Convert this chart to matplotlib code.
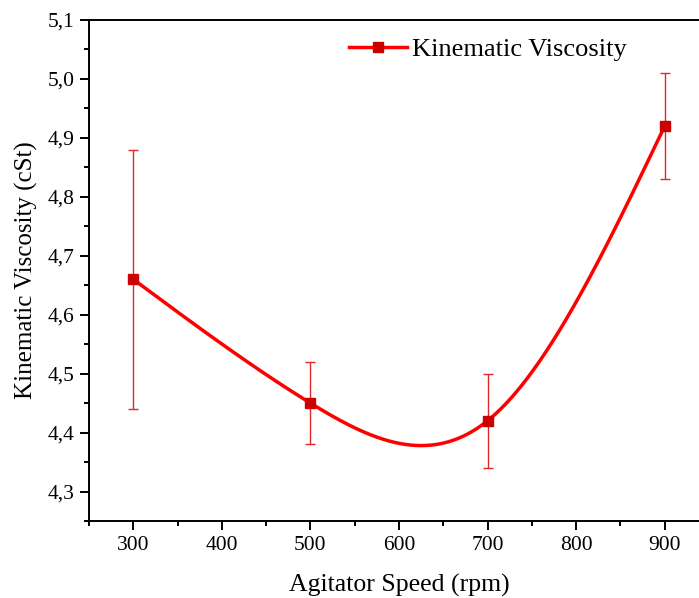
import numpy as np
import matplotlib.pyplot as plt
from matplotlib.ticker import MultipleLocator, FuncFormatter

# data
speed = [300, 500, 700, 900]
viscosity = [4.66, 4.45, 4.42, 4.92]
error = [0.22, 0.07, 0.08, 0.09]


def natural_spline(x, y, xs):
    '''Natural cubic spline through (x, y), evaluated at xs.'''
    x = np.asarray(x, float)
    y = np.asarray(y, float)
    n = len(x)
    h = np.diff(x)
    A = np.zeros((n, n))
    b = np.zeros(n)
    A[0, 0] = A[-1, -1] = 1
    for i in range(1, n - 1):
        A[i, i - 1] = h[i - 1]
        A[i, i] = 2 * (h[i - 1] + h[i])
        A[i, i + 1] = h[i]
        b[i] = 6 * ((y[i + 1] - y[i]) / h[i] - (y[i] - y[i - 1]) / h[i - 1])
    M = np.linalg.solve(A, b)
    idx = np.clip(np.searchsorted(x, xs) - 1, 0, n - 2)
    x0, x1, hi = x[idx], x[idx + 1], h[idx]
    return (M[idx] * (x1 - xs) ** 3 / (6 * hi) + M[idx + 1] * (xs - x0) ** 3 / (6 * hi)
            + (y[idx] - M[idx] * hi ** 2 / 6) * (x1 - xs) / hi
            + (y[idx + 1] - M[idx + 1] * hi ** 2 / 6) * (xs - x0) / hi)


plt.rcParams['font.family'] = ['Liberation Serif', 'DejaVu Serif']

fig = plt.figure(figsize=(6.99, 5.98), dpi=100)
ax = fig.add_axes([0.1273, 0.1288, 0.887, 0.8378])

xs = np.linspace(speed[0], speed[-1], 400)
ax.plot(xs, natural_spline(speed, viscosity, xs), color='#ff0000', lw=2.5, zorder=2)
ax.errorbar(speed, viscosity, yerr=error, fmt='none', ecolor='#e02626',
            elinewidth=1.0, capsize=3.8, capthick=1.0, zorder=1)
ax.plot(speed, viscosity, 's', color='#cc0000', ms=7.7, zorder=3)

# legend handle: line with square marker
handle, = ax.plot([], [], '-s', color='#ff0000', mfc='#cc0000', mec='#cc0000',
                  lw=2.5, ms=7.7)
ax.legend([handle], ['Kinematic Viscosity'], loc='center left',
          bbox_to_anchor=(0.4986, 0.918), bbox_transform=fig.transFigure,
          frameon=False, fontsize=19, handlelength=2.2, handletextpad=0.2,
          borderaxespad=0, borderpad=0)

ax.set_xlim(250, 950)
ax.set_ylim(4.25, 5.1)
ax.xaxis.set_minor_locator(MultipleLocator(50))
ax.yaxis.set_minor_locator(MultipleLocator(0.05))
ax.set_xticks(range(300, 901, 100))
ax.set_yticks(np.arange(4.3, 5.11, 0.1))
ax.yaxis.set_major_formatter(FuncFormatter(lambda v, p: f'{v:.1f}'.replace('.', ',')))

for s in ax.spines.values():
    s.set_linewidth(1.4)
ax.spines['right'].set_visible(False)
ax.tick_params(which='major', direction='out', length=6.5, width=1.4, labelsize=15.5, pad=4)
ax.tick_params(which='minor', direction='out', length=3.5, width=1.4)

ax.set_xlabel('Agitator Speed (rpm)', fontsize=18.5, labelpad=14)
ax.set_ylabel('Kinematic Viscosity (cSt)', fontsize=18, labelpad=7)

fig.savefig('out.png', dpi=100)
